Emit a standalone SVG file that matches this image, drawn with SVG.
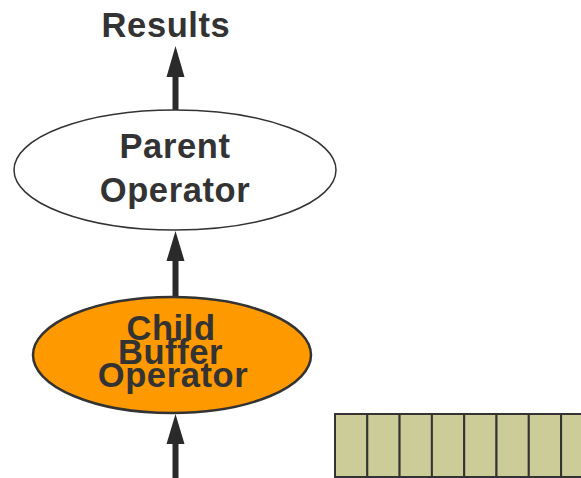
<svg xmlns="http://www.w3.org/2000/svg" width="581" height="478" viewBox="0 0 581 478">
<style>
.t{font-family:"Liberation Sans",Arial,sans-serif;font-weight:bold;font-size:34.5px;letter-spacing:0.6px;fill:#333;text-anchor:middle}
.cell{fill:#CCCC99;stroke:#333;stroke-width:2}
.conn{stroke:#2a2a2a;stroke-width:6;fill:none}
.head{fill:#2a2a2a}
</style>
<rect width="581" height="478" fill="#fff"/>
<g id="connectors">
<line class="conn" x1="175.5" y1="111" x2="175.5" y2="74"/>
<polygon class="head" points="175.5,46 166.5,77 184.5,77"/>
<line class="conn" x1="175.5" y1="297" x2="175.5" y2="258"/>
<polygon class="head" points="175.5,231 166.5,261 184.5,261"/>
<line class="conn" x1="175.5" y1="478" x2="175.5" y2="440"/>
<polygon class="head" points="175.5,414 166.5,444 184.5,444"/>
</g>
<g id="results">
<text class="t" x="166" y="37">Results</text>
</g>
<g id="parent">
<ellipse cx="175" cy="170" rx="161" ry="60" fill="#fff" stroke="#333" stroke-width="1.5"/>
<text class="t" x="175" y="158">Parent</text>
<text class="t" x="175" y="202">Operator</text>
</g>
<g id="child">
<ellipse cx="172" cy="355" rx="139" ry="58" fill="#FF9900" stroke="#333" stroke-width="2.5"/>
<text class="t" x="171" y="340">Child</text>
<text class="t" x="170.5" y="364">Buffer</text>
<text class="t" x="173" y="387">Operator</text>
</g>
<g id="buffer">
<rect class="cell" x="335" y="414" width="32.3" height="63"/>
<rect class="cell" x="367.3" y="414" width="32.3" height="63"/>
<rect class="cell" x="399.6" y="414" width="32.3" height="63"/>
<rect class="cell" x="431.9" y="414" width="32.3" height="63"/>
<rect class="cell" x="464.2" y="414" width="32.3" height="63"/>
<rect class="cell" x="496.5" y="414" width="32.3" height="63"/>
<rect class="cell" x="528.8" y="414" width="32.3" height="63"/>
<rect class="cell" x="561.1" y="414" width="32.3" height="63"/>
</g>
</svg>
